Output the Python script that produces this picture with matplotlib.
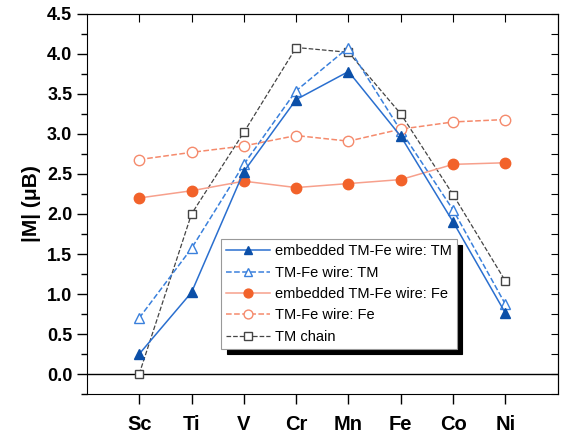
import numpy as np
import matplotlib
matplotlib.use("Agg")
import matplotlib.pyplot as plt
from matplotlib.ticker import MultipleLocator

plt.rcParams['font.family'] = ['Liberation Sans', 'DejaVu Sans']

# ---- data -------------------------------------------------------------
elements = ["Sc", "Ti", "V", "Cr", "Mn", "Fe", "Co", "Ni"]
emb_tm   = [0.25, 1.02, 2.53, 3.43, 3.78, 2.97, 1.90, 0.76]
wire_tm  = [0.70, 1.57, 2.62, 3.54, 4.08, 3.04, 2.05, 0.87]
emb_fe   = [2.20, 2.29, 2.41, 2.33, 2.38, 2.43, 2.62, 2.64]
wire_fe  = [2.68, 2.77, 2.85, 2.98, 2.91, 3.06, 3.15, 3.18]
chain_tm = [0.00, 2.00, 3.02, 4.08, 4.02, 3.25, 2.24, 1.16]

x = np.arange(len(elements))

fig = plt.figure(figsize=(5.64, 4.34), dpi=100)
ax = fig.add_axes([0.154, 0.092, 0.835, 0.876])

ax.axhline(0, color='black', lw=1.0, zorder=1)

ax.plot(x, emb_tm, '-', color='#2a6fcf', lw=1.1, marker='^', ms=7.5,
        mfc='#0b4fa8', mec='#0b4fa8', label='embedded TM-Fe wire: TM', zorder=5)
ax.plot(x, wire_tm, '--', color='#3a80dc', lw=1.1, marker='^', ms=7.5,
        mfc='white', mec='#3a80dc', label='TM-Fe wire: TM', zorder=4)
ax.plot(x, emb_fe, '-', color='#f7a08c', lw=1.1, marker='o', ms=7.5,
        mfc='#f2622a', mec='#f2622a', label='embedded TM-Fe wire: Fe', zorder=4)
ax.plot(x, wire_fe, '--', color='#f58a6c', lw=1.1, marker='o', ms=7.5,
        mfc='white', mec='#f58a6c', label='TM-Fe wire: Fe', zorder=4)
ax.plot(x, chain_tm, '--', color='#444444', lw=0.9, marker='s', ms=6,
        mfc='white', mec='#444444', label='TM chain', zorder=3)

ax.set_xlim(-1, 8)
ax.set_ylim(-0.25, 4.5)
ax.set_xticks(x)
ax.set_xticklabels(elements, fontsize=14.5, fontweight='bold')
ax.yaxis.set_major_locator(MultipleLocator(0.5))
ax.yaxis.set_minor_locator(MultipleLocator(0.25))
ax.yaxis.set_major_formatter(plt.FormatStrFormatter('%.1f'))
for lb in ax.get_yticklabels():
    lb.set_fontsize(13)
    lb.set_fontweight('bold')
ax.tick_params(axis='both', which='major', direction='out', length=7, width=1)
ax.tick_params(axis='y', which='minor', direction='out', length=4, width=1)
ax.tick_params(axis='x', pad=8)

# mirrored inward ticks on top and right
top = ax.secondary_xaxis('top')
top.set_xticks(x)
top.tick_params(direction='in', length=6, labeltop=False)
right = ax.secondary_yaxis('right')
right.yaxis.set_major_locator(MultipleLocator(0.25))
right.tick_params(direction='in', length=5, labelright=False)

ax.set_ylabel('|M| (\u03bcB)', fontsize=15, fontweight='bold', labelpad=4)

leg = ax.legend(loc='lower left', bbox_to_anchor=(0.27, 0.1), fontsize=10.5,
                frameon=True, fancybox=False, edgecolor='#999999',
                shadow={'color': 'black', 'alpha': 1.0, 'ox': 4, 'oy': -4},
                handlelength=3.0, handletextpad=0.3, labelspacing=0.5,
                borderpad=0.35, markerscale=0.85)
leg.get_frame().set_linewidth(0.8)

fig.savefig('out.png', dpi=100)
